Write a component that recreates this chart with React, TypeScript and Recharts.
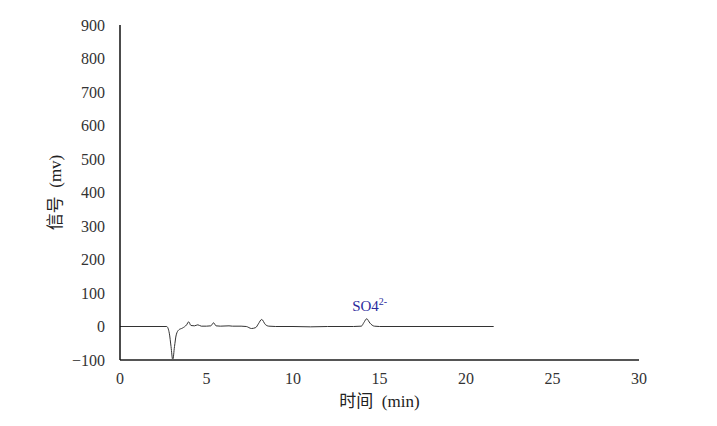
import { LineChart, Line, XAxis, YAxis, ReferenceDot, Label } from 'recharts'

const times = [0, 2.7, 2.85, 2.95, 3.05, 3.15, 3.25, 3.4, 3.6, 3.85, 3.97, 4.1, 4.3, 4.5, 4.7, 5.0, 5.25, 5.41, 5.55, 5.8, 6.3, 6.5, 7.0, 7.3, 7.6, 7.85, 8.0, 8.19, 8.4, 8.6, 9.0, 10, 11, 12, 13.5, 13.95, 14.1, 14.26, 14.45, 14.7, 15, 21.6]
const signal = [0, 0, -20, -60, -100, -60, -25, -10, -5, 5, 14, 3, 2, 5, 1, 1, 2, 11, 2, 1, 2, 1, 1, 0, -6, -3, 8, 21, 6, 1, 0, 0, -1, 0, 0, 1, 12, 23, 10, 1, 0, 0]

const xTicks = [0, 5, 10, 15, 20, 25, 30]
const yTicks = [-100, 0, 100, 200, 300, 400, 500, 600, 700, 800, 900]

const peaks = [{ time: 14.26, signal: 23, name: 'SO4', charge: '2-' }]

const data = times.map((t, i) => ({ t, v: signal[i] }))

const font = '"Liberation Serif", "Noto Sans CJK SC", serif'

const PeakLabel = ({ viewBox, name, charge }: any) => {
  const x = viewBox.cx ?? viewBox.x
  const y = viewBox.cy ?? viewBox.y
  return (
    <text x={x + 3} y={y - 8} textAnchor="middle" fill="#2b2b9c" fontFamily={font} fontSize={15}>
      {name}
      <tspan fontSize={10} dy={-6}>{charge}</tspan>
    </text>
  )
}

export default function App() {
  return (
    <div style={{ position: 'absolute', left: 0, top: 0, background: '#fff' }}>
      <LineChart width={717} height={426} data={data} margin={{ top: 25, right: 78, bottom: 0, left: 0 }}>
        <XAxis
          dataKey="t"
          type="number"
          domain={[0, 30]}
          ticks={xTicks}
          tickLine={false}
          tickSize={5}
          tickMargin={8}
          height={66}
          axisLine={{ stroke: '#555', strokeWidth: 2 }}
          tick={{ fill: '#333', fontSize: 16, fontFamily: font }}
        >
          <Label value={'时间\u00a0\u00a0(min)'} position="insideTop" offset={35} fill="#222" fontSize={17} fontFamily={font} />
        </XAxis>
        <YAxis
          type="number"
          domain={[-100, 900]}
          ticks={yTicks}
          tickLine={false}
          tickSize={5}
          tickMargin={10}
          width={120}
          axisLine={{ stroke: '#111', strokeWidth: 1.5 }}
          tick={{ fill: '#333', fontSize: 16, fontFamily: font }}
          tickFormatter={(v: number) => String(v).replace('-', '\u2212')}
        >
          <Label value={'信号\u00a0\u00a0(mv)'} angle={-90} position="insideLeft" offset={55} textAnchor="middle" fill="#222" fontSize={17} fontFamily={font} />
        </YAxis>
        <Line dataKey="v" type="monotone" stroke="#333" strokeWidth={1} dot={false} isAnimationActive={false} />
        {peaks.map((p) => (
          <ReferenceDot key={p.name} x={p.time} y={p.signal} r={0} fill="none" stroke="none"
            label={<PeakLabel name={p.name} charge={p.charge} />} />
        ))}
      </LineChart>
    </div>
  )
}
